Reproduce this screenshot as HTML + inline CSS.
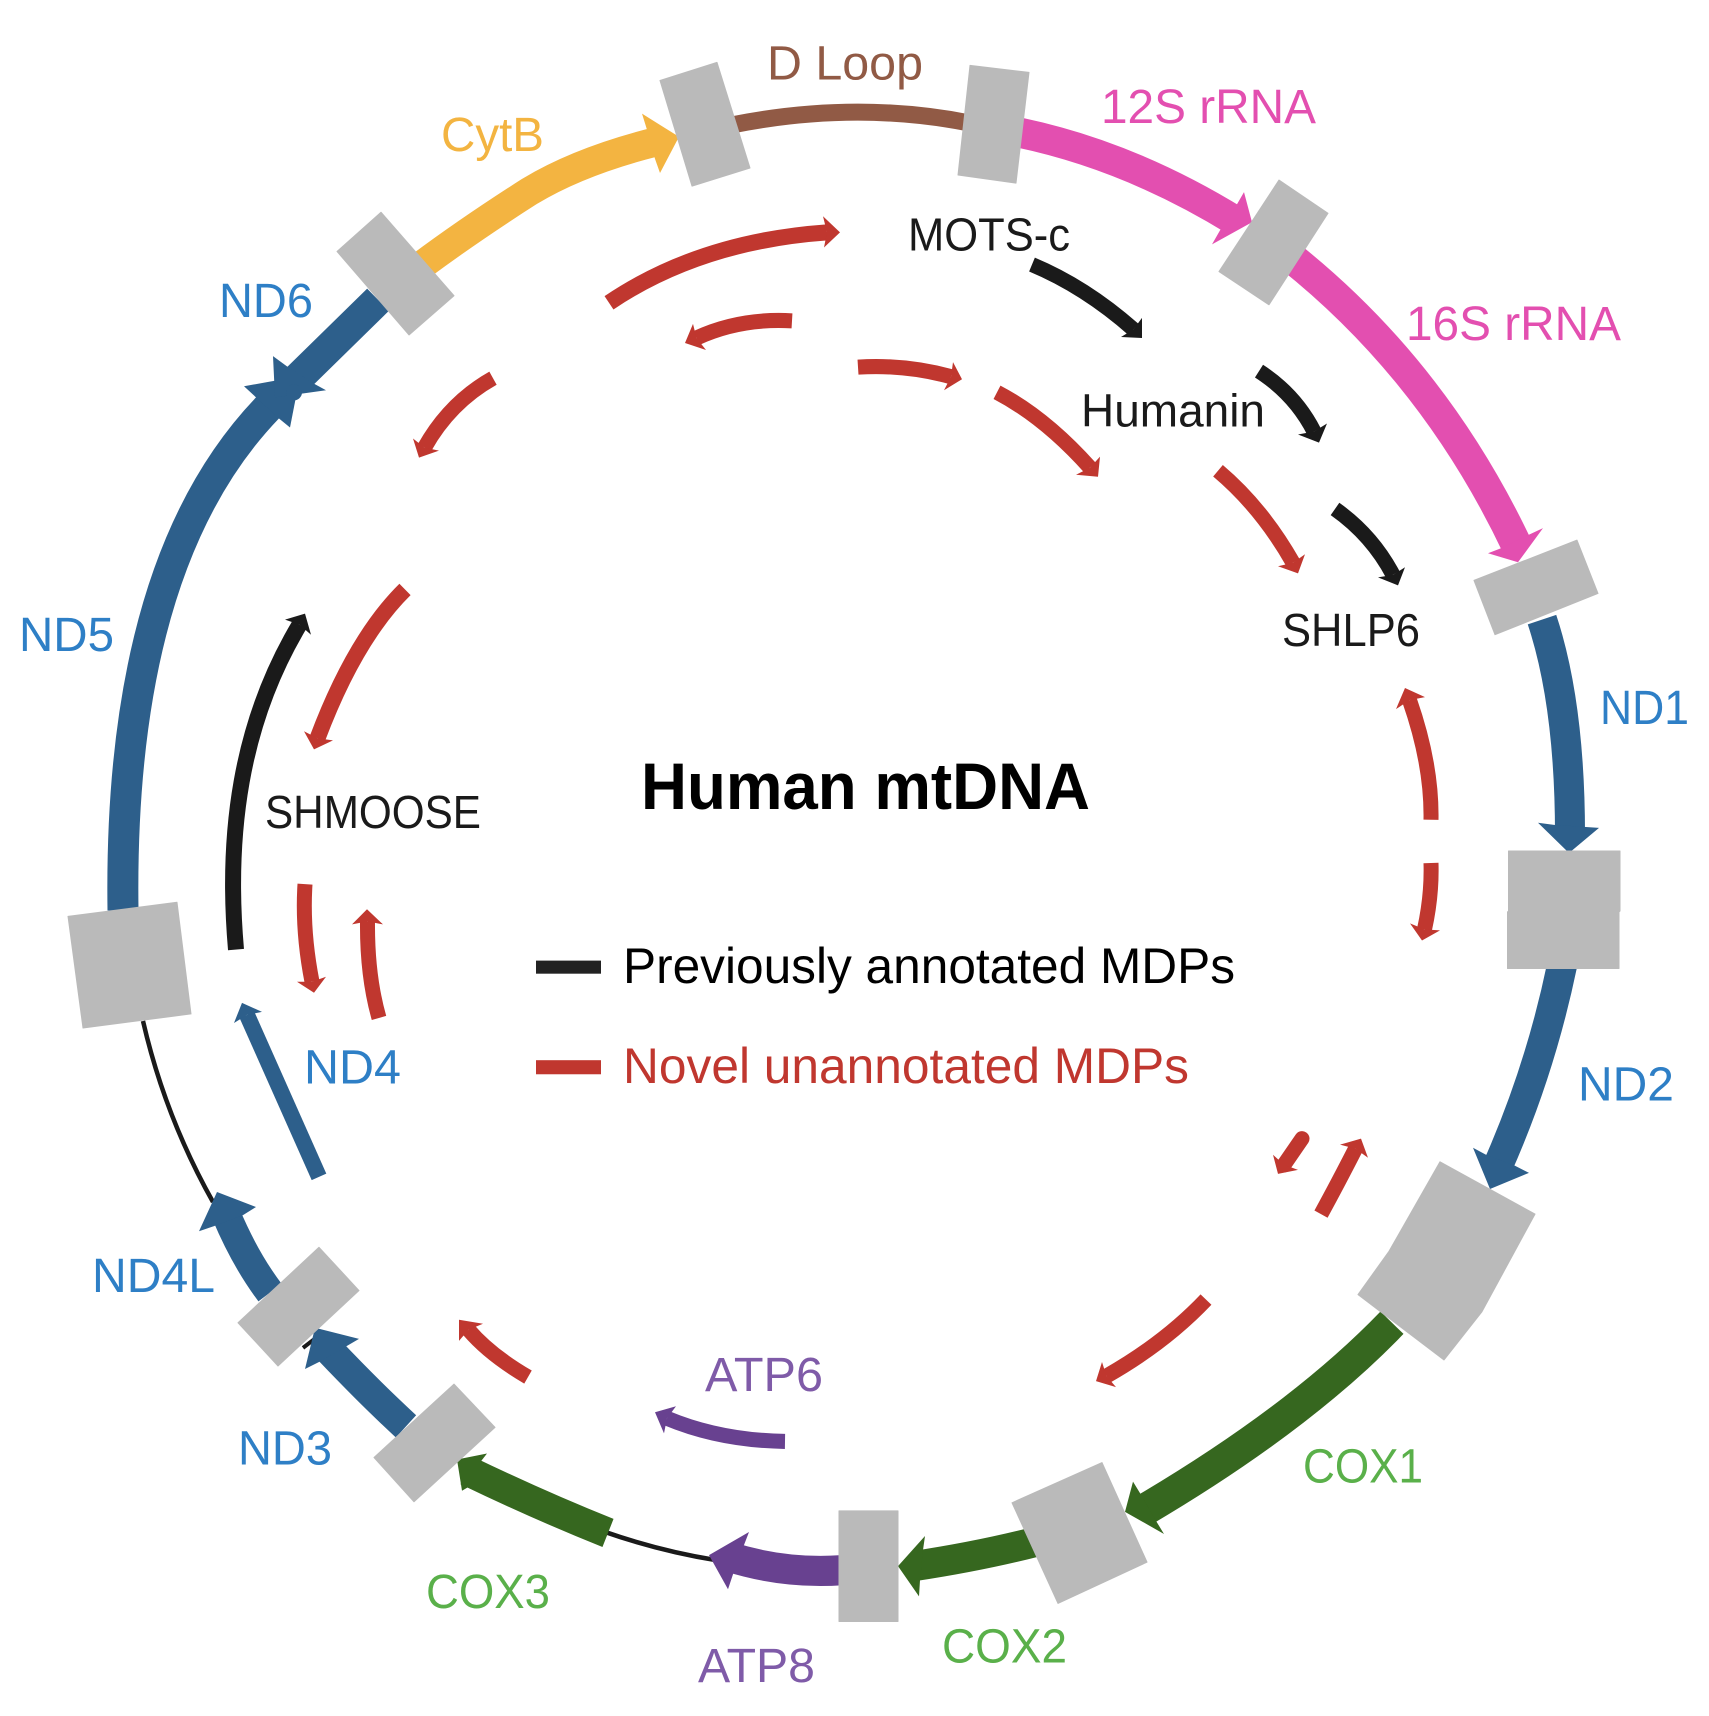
<!DOCTYPE html>
<html><head><meta charset="utf-8"><style>
html,body{margin:0;padding:0;background:#fff}
svg{display:block}
text{font-family:"Liberation Sans",Arial,sans-serif;font-size:48.5px}
.g{fill:#bababa;stroke:#bababa;stroke-width:1;stroke-linejoin:round}
path{fill:none}
.r path{stroke:#c0372f;stroke-width:15}.r polygon{fill:#c0372f}
.k path{stroke:#1a1a1a;stroke-width:15}.k polygon{fill:#1a1a1a}
</style></head><body>
<svg width="1709" height="1716" viewBox="0 0 1709 1716" xmlns="http://www.w3.org/2000/svg">
<rect width="1709" height="1716" fill="#fff"/>
<!-- lower ring -->
<g transform="matrix(1 0 0 1.00587 0 -5.025)">
<path d="M143,1020 Q165,1115 213,1200" stroke="#1a1a1a" stroke-width="4.5"/>
<path d="M716,1556 Q660,1547 605,1528" stroke="#1a1a1a" stroke-width="4.5"/>
<path d="M303,1345 L316,1335" stroke="#1a1a1a" stroke-width="4"/>
<path d="M1562,965 Q1540,1070 1497,1166" stroke="#2d5f8b" stroke-width="30"/>
<polygon points="1490,1187 1473,1146 1486,1153 1515,1164 1529,1171" fill="#2d5f8b"/>
<path d="M1392,1320 Q1300,1415 1143,1507" stroke="#36671f" stroke-width="32"/>
<polygon points="1125,1508 1133,1478 1141,1491 1156,1517 1164,1530" fill="#36671f"/>
<path d="M1035,1538 Q980,1552 914,1562" stroke="#36671f" stroke-width="30"/>
<polygon points="898,1562 925,1532 923,1546 920,1576 919,1592" fill="#36671f"/>
<path d="M842,1566 Q785,1570 730,1553" stroke="#684190" stroke-width="30"/>
<polygon points="709,1551 749,1528 744,1541 733,1570 728,1585" fill="#684190"/>
<path d="M608,1529 Q540,1502 467,1467" stroke="#36671f" stroke-width="30"/>
<polygon points="457,1456 487,1450 480,1459 469,1483 462,1487" fill="#36671f"/>
<path d="M406,1423 Q370,1390 328,1346" stroke="#2d5f8b" stroke-width="30"/>
<polygon points="315,1325 359,1336 347,1343 319,1359 305,1366" fill="#2d5f8b"/>
<path d="M270,1290 Q245,1257 226,1212" stroke="#2d5f8b" stroke-width="29"/>
<polygon points="217,1190 256,1205 243,1213 214,1224 199,1229" fill="#2d5f8b"/>
</g>
<!-- upper ring -->
<g transform="matrix(1 0 0 1.00587 0 0)">
<path d="M733,124 Q855,100 968,122" stroke="#915a45" stroke-width="17"/>
<path d="M420,265 Q470,228 530,190 Q580,160 656,141" stroke="#f3b441" stroke-width="29"/>
<polygon points="679,136 642,113 647,129 655,158 660,172" fill="#f3b441"/>
<path d="M1020,132 Q1130,155 1236,220" stroke="#e34fb0" stroke-width="30"/>
<polygon points="1252,221 1244,191 1237,203 1220,229 1212,243" fill="#e34fb0"/>
<path d="M1290,255 Q1435,370 1518,545" stroke="#e34fb0" stroke-width="31"/>
<polygon points="1518,559 1543,525 1528,532 1501,545 1488,550" fill="#e34fb0"/>
<path d="M1542,616 Q1570,700 1570,830" stroke="#2d5f8b" stroke-width="30"/>
<polygon points="1569,848 1538,818 1554,820 1584,822 1599,823" fill="#2d5f8b"/>
<path d="M123,905 Q118,560 268,405" stroke="#2d5f8b" stroke-width="31"/>
<polygon points="300,374 244,384 256,395 279,416 290,425" fill="#2d5f8b"/>
<path d="M378,298 L298,376" stroke="#2d5f8b" stroke-width="31"/>
<polygon points="275,395 273,354 288,365 315,382 326,388" fill="#2d5f8b"/>
<circle cx="294" cy="390" r="8" fill="#2d5f8b"/>
</g>
<!-- gray boxes -->
<g transform="matrix(1 0 0 1.00587 0 0)">
<polygon class="g" points="660,80 717,62 750,167 692,185"/>
<polygon class="g" points="337,250 381,211 454,294 409,333"/>
<polygon class="g" points="970,65 1029,72 1016,182 958,174"/>
<polygon class="g" points="1279,179 1328,212 1269,303 1219,270"/>
<polygon class="g" points="1474,577 1577,537 1598,590 1495,631"/>
</g>
<polygon class="g" points="1508.5,851 1620,851 1620,911 1619,912 1619,968.5 1507.5,968.5 1507.5,912 1508.5,911"/>
<g transform="matrix(1 0 0 1.00587 0 -5.025)">
<polygon class="g" points="1440,1160 1535,1212 1482,1309 1444,1357 1358,1292 1389,1249"/>
<polygon class="g" points="1012,1499 1102,1459 1147,1558 1058,1599"/>
<polygon class="g" points="839,1507 898,1507 898,1617 839,1617"/>
<polygon class="g" points="374,1454 454,1381 495,1424 414,1498"/>
<polygon class="g" points="238,1320 319,1245 359,1288 278,1363"/>
<polygon class="g" points="68,916 177,902 191,1013 83,1027"/>
</g>
<!-- arcs upper -->
<g transform="matrix(1 0 0 1.00587 0 0)">
<g class="r">
<path d="M609,301 Q700,240 827,231" style="stroke-width:16"/><polygon points="840,231 823,215 827,231 824,246"/>
<path d="M792,319 Q740,316 696.5,336"/><polygon points="685,341 693,322 696.5,336 706,348"/>
<path d="M493,376 Q450,400 424.5,445"/><polygon points="419,455 413,436 424.5,445 439,448"/>
<path d="M405,586 Q355,635 317.5,734" style="stroke-width:16"/><polygon points="314,745 304,727 317.5,734 333,736"/>
<path d="M858,365 Q905,362 951,374.5"/><polygon points="962,377 953,360 951,374.5 944,388"/>
<path d="M997,390 Q1045,415 1090,465"/><polygon points="1098,474 1100,454 1090,465 1076,472"/>
<path d="M1218,468 Q1262,505 1293,559.5"/><polygon points="1298,570 1305,551 1293,559.5 1278,563"/>
<path d="M1431,815 Q1432,760 1409.5,696"/><polygon points="1405,684 1396,705 1409.5,696 1425,693"/>
</g>
<g class="k">
<path d="M236,944 C226,830 240,720 299.5,621" style="stroke-width:16"/><polygon points="305,610 285,616 299.5,621 311,631"/>
<path d="M1032,263 Q1085,285 1133.5,327.5"/><polygon points="1142,336 1142,316 1133.5,327.5 1121,335"/>
<path d="M1259,369 Q1295,392 1314,429"/><polygon points="1319,440 1327,421 1314,429 1298,432"/>
<path d="M1335,506 Q1372,532 1393,571.5"/><polygon points="1398,582 1405,564 1393,571.5 1378,574"/>
</g>
</g>
<!-- arcs lower -->
<g transform="matrix(1 0 0 1.00587 0 -5.025)">
<g class="r">
<path d="M305,884 Q302,930 312,981"/><polygon points="314,992 297,981 312,981 326,976"/>
<path d="M379,1017 Q367,975 367.5,921"/><polygon points="367,909 352,924 367.5,921 383,924"/>
<path d="M528,1374 Q490,1352 468.5,1327"/><polygon points="459,1317 459,1338 468.5,1327 483,1321"/>
<path d="M1431,863 Q1432,895 1424.5,929"/><polygon points="1422,940 1410,923 1424.5,929 1440,930"/>
<path d="M1302,1137 L1284,1163" style="stroke-linecap:round"/><polygon points="1278,1172 1273,1153 1284,1163 1298,1168"/>
<path d="M1321,1212 Q1337,1183 1355.5,1147"/><polygon points="1361,1137 1340,1143 1355.5,1147 1368,1156"/>
<path d="M1206,1297 Q1165,1340 1106.5,1373"/><polygon points="1096,1378 1102,1359 1106.5,1373 1116,1384"/>
</g>
<path d="M319,1175 L247,1014" stroke="#2d5f8b" stroke-width="16"/><polygon points="242,1002 234,1022 247,1014 262,1011" fill="#2d5f8b"/>
<path d="M785,1438 Q720,1437 667,1415" stroke="#684190" stroke-width="15"/><polygon points="655,1409 676,1403 667,1415 664,1430" fill="#684190"/>
<rect x="536" y="960" width="65" height="13" fill="#222"/>
<rect x="536" y="1059" width="65" height="14" fill="#c0372f"/>
</g>
<!-- labels -->
<text x="441" y="151" textLength="103" lengthAdjust="spacingAndGlyphs" fill="#f3b441">CytB</text>
<text x="219" y="317" textLength="94" lengthAdjust="spacingAndGlyphs" fill="#2e7fc6">ND6</text>
<text x="19" y="651" textLength="95" lengthAdjust="spacingAndGlyphs" fill="#2e7fc6">ND5</text>
<text x="767" y="79.5" textLength="156" lengthAdjust="spacingAndGlyphs" fill="#915a45">D Loop</text>
<text x="1101" y="123" textLength="215" lengthAdjust="spacingAndGlyphs" fill="#e34fb0">12S rRNA</text>
<text x="1406" y="340" textLength="215" lengthAdjust="spacingAndGlyphs" fill="#e34fb0">16S rRNA</text>
<text x="1600" y="724" textLength="89" lengthAdjust="spacingAndGlyphs" fill="#2e7fc6">ND1</text>
<text x="1578" y="1100.5" textLength="96" lengthAdjust="spacingAndGlyphs" fill="#2e7fc6">ND2</text>
<text x="1303" y="1482.5" textLength="120" lengthAdjust="spacingAndGlyphs" fill="#5ab04a">COX1</text>
<text x="942" y="1662.5" textLength="125" lengthAdjust="spacingAndGlyphs" fill="#5ab04a">COX2</text>
<text x="426" y="1608" textLength="124" lengthAdjust="spacingAndGlyphs" fill="#5ab04a">COX3</text>
<text x="698" y="1682" textLength="117" lengthAdjust="spacingAndGlyphs" fill="#7f5ba8">ATP8</text>
<text x="705" y="1391" textLength="118" lengthAdjust="spacingAndGlyphs" fill="#7f5ba8">ATP6</text>
<text x="238" y="1464.5" textLength="94" lengthAdjust="spacingAndGlyphs" fill="#2e7fc6">ND3</text>
<text x="92" y="1292" textLength="123" lengthAdjust="spacingAndGlyphs" fill="#2e7fc6">ND4L</text>
<text x="304" y="1083.5" textLength="97" lengthAdjust="spacingAndGlyphs" fill="#2e7fc6">ND4</text>
<text x="265" y="828" textLength="216" lengthAdjust="spacingAndGlyphs" fill="#1a1a1a" style="font-size:46px">SHMOOSE</text>
<text x="908" y="250.5" textLength="162" lengthAdjust="spacingAndGlyphs" fill="#1a1a1a" style="font-size:46px">MOTS-c</text>
<text x="1081" y="426.5" textLength="184" lengthAdjust="spacingAndGlyphs" fill="#1a1a1a" style="font-size:46px">Humanin</text>
<text x="1282" y="646" textLength="138" lengthAdjust="spacingAndGlyphs" fill="#1a1a1a" style="font-size:46px">SHLP6</text>
<text x="641" y="809" textLength="449" lengthAdjust="spacingAndGlyphs" fill="#000" style="font-size:66px;font-weight:bold">Human mtDNA</text>
<text x="623" y="983" textLength="612" lengthAdjust="spacingAndGlyphs" fill="#000" style="font-size:50px">Previously annotated MDPs</text>
<text x="623" y="1083" textLength="566" lengthAdjust="spacingAndGlyphs" fill="#c0372f" style="font-size:50px">Novel unannotated MDPs</text>
</svg>
</body></html>
